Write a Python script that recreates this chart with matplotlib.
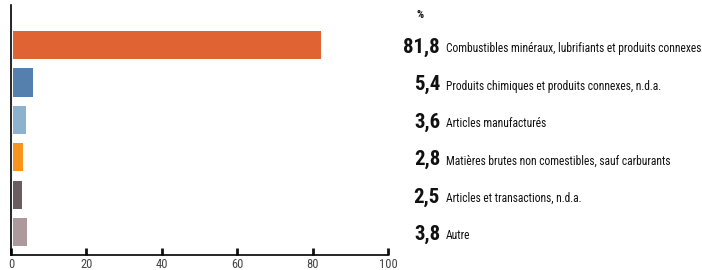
import matplotlib
matplotlib.use('Agg')
import matplotlib.pyplot as plt

categories = [
    "Combustibles minéraux, lubrifiants et produits connexes",
    "Produits chimiques et produits connexes, n.d.a.",
    "Articles manufacturés",
    "Matières brutes non comestibles, sauf carburants",
    "Articles et transactions, n.d.a.",
    "Autre",
]
values = [81.8, 5.4, 3.6, 2.8, 2.5, 3.8]
value_labels = ["81,8", "5,4", "3,6", "2,8", "2,5", "3,8"]
colors = ["#E06334", "#5580AE", "#8DB2CD", "#F7941E", "#6A5D60", "#AD989C"]
ticks = [0, 20, 40, 60, 80, 100]

narrow = ['Roboto Condensed', 'Asap Condensed', 'Archivo Narrow', 'DejaVu Sans']

fig = plt.figure(figsize=(7.02, 2.70), dpi=100)
ax = fig.add_axes([11 / 702, 15 / 270, 377 / 702, 250 / 270])

ypos = list(range(len(values)))
ax.barh(ypos, values, height=0.75, color=colors, left=0.5)
ax.set_xlim(0, 100)
ax.set_ylim(5.61, -1.07)

for s in ['top', 'right']:
    ax.spines[s].set_visible(False)
ax.spines['left'].set_linewidth(1.2)
ax.spines['bottom'].set_linewidth(1.2)
ax.set_yticks([])
ax.set_xticks(ticks)
ax.tick_params(axis='x', direction='in', length=5, width=2, color='#111111',
               labelcolor='#444444', labelsize=9, pad=2)
for lbl in ax.get_xticklabels():
    lbl.set_family(narrow)

for y, vl, cat in zip(ypos, value_labels, categories):
    ax.text(113.8, y + 0.06, vl, ha='right', va='center', fontsize=15,
            fontweight='bold', family=narrow, color='#111111', clip_on=False)
    ax.text(115.4, y + 0.1, cat, ha='left', va='center', fontsize=8.3,
            family=narrow, color='#111111', clip_on=False)

ax.text(108.5, -0.8, "%", ha='center', va='center', fontsize=8,
        fontweight='bold', family=narrow, color='#111111', clip_on=False)

fig.savefig('out.png', dpi=100)
